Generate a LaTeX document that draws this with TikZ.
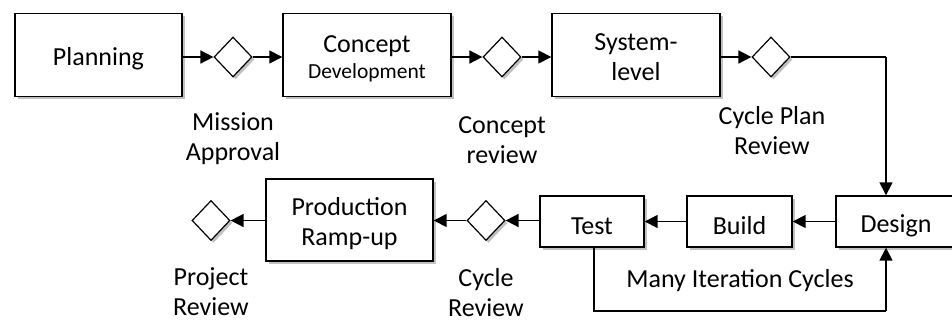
\documentclass[tikz,border=0pt]{standalone}
\usepackage{fontspec}
\setmainfont{Carlito}
\usetikzlibrary{shapes.geometric,arrows.meta,shadows}
\newcommand{\lowr}{\rule{0pt}{26pt}}
\newcommand{\dn}[1]{\setbox0\hbox{\begin{tabular}{@{}c@{}}#1\end{tabular}}\rule{0pt}{\dimexpr\ht0+8pt\relax}\box0}
\begin{document}
\begin{tikzpicture}[x=1pt,y=-1pt,
  shd/.style={drop shadow={shadow xshift=2.5pt,shadow yshift=-2.5pt,opacity=0.35,fill=black!70}},
  box/.style={draw,line width=1.4pt,fill=white,shd,inner sep=0pt,font=\fontsize{26}{30}\selectfont},
  gate/.style={draw,line width=1.2pt,fill=white,shd,shape=diamond,inner sep=0pt,minimum width=38pt,minimum height=40pt},
  lbl/.style={align=center,font=\fontsize{26}{30}\selectfont},
  arr/.style={line width=1.6pt,-{Triangle[length=13pt,width=13pt]}},
  ln/.style={line width=1.6pt}]
\useasboundingbox (0,0) rectangle (952,322);
% top row
\node[box,minimum width=167pt,minimum height=83pt] (plan) at (98.5,55) {\lowr Planning};
\node[gate] (d1) at (233,57) {};
\node[box,minimum width=168pt,minimum height=83pt] (conc) at (367,55) {\dn{Concept\\[-4pt]{\fontsize{21.5}{24}\selectfont Development}}};
\node[gate] (d2) at (502,57) {};
\node[box,minimum width=168pt,minimum height=83pt] (sys) at (636,55) {\dn{System-\\level}};
\node[gate] (d3) at (771,57) {};
% bottom row
\node[box,minimum width=120pt,minimum height=51pt] (des) at (896,221.5) {\lowr Design};
\node[box,minimum width=105pt,minimum height=51pt] (build) at (739.5,221.5) {\lowr Build};
\node[box,minimum width=104pt,minimum height=51pt] (test) at (592,221.5) {\lowr Test};
\node[gate] (d4) at (486,220.5) {};
\node[box,minimum width=167pt,minimum height=82pt] (prod) at (349.5,220) {\dn{Production\\Ramp-up}};
\node[gate] (d5) at (211,220.5) {};
% labels
\node[lbl] (l1) at (233,139) {Mission\\Approval};
\node[lbl] (l2) at (502,140) {Concept\\review};
\node[lbl] (l3) at (772,131) {Cycle Plan\\Review};
\node[lbl] (l4) at (486,293) {Cycle\\Review};
\node[lbl] (l5) at (211,292) {Project\\Review};
\node[lbl] (l6) at (740,281) {Many Iteration Cycles};
\coordinate (c1) at (886,57);
\coordinate (c2) at (594,311);
\coordinate (c3) at (886,311);
% connectors
\draw[arr] (plan.east |- d1) -- (d1.west);
\draw[arr] (d1.east) -- (conc.west |- d1);
\draw[arr] (conc.east |- d2) -- (d2.west);
\draw[arr] (d2.east) -- (sys.west |- d2);
\draw[arr] (sys.east |- d3) -- (d3.west);
\draw[ln] (d3.east) -- (c1);
\draw[arr] (c1) -- (c1 |- des.north);
\draw[arr] (des.west) -- (build.east);
\draw[arr] (build.west) -- (test.east);
\draw[arr] (test.west |- d4) -- (d4.east);
\draw[arr] (d4.west) -- (prod.east |- d4);
\draw[arr] (prod.west |- d5) -- (d5.east);
\draw[ln] (c2 |- test.south) -- (c2) -- (c3);
\draw[arr] (c3) -- (c3 |- des.south);
\end{tikzpicture}
\end{document}
